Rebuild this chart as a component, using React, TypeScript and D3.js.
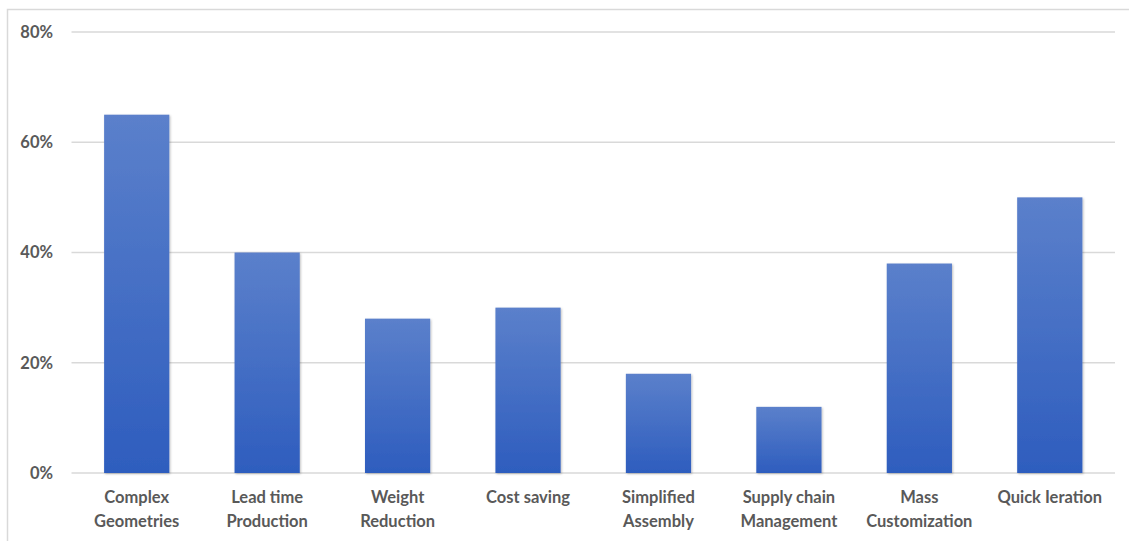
import React from "react";
import * as d3 from "d3";

const categories: string[][] = [
  ["Complex", "Geometries"],
  ["Lead time", "Production"],
  ["Weight", "Reduction"],
  ["Cost saving"],
  ["Simplified", "Assembly"],
  ["Supply chain", "Management"],
  ["Mass", "Customization"],
  ["Quick Ieration"],
];
const values: number[] = [65, 40, 28, 30, 18, 12, 38, 50];
const yTicks: number[] = [0, 20, 40, 60, 80];

const W = 1129;
const H = 541;
const left = 71.5;
const right = 1115;
const top = 32;
const bottom = 473;

export default function App() {
  const keys = categories.map((c) => c.join(" "));
  const x = d3
    .scaleBand<string>()
    .domain(keys)
    .range([left, right])
    .paddingInner(0.5)
    .paddingOuter(0.25);
  const y = d3.scaleLinear().domain([0, 80]).range([bottom, top]);
  const font = "Lato, 'Open Sans', sans-serif";
  return (
    <svg
      width={W}
      height={H}
      style={{ position: "absolute", left: 0, top: 0, background: "#fff" }}
    >
      <defs>
        <linearGradient id="barGrad" x1="0" y1="0" x2="0" y2="1">
          <stop offset="0%" stopColor="#5b80cb" />
          <stop offset="100%" stopColor="#2e5dbe" />
        </linearGradient>
        <filter id="shadow" x="-10%" y="-10%" width="130%" height="130%">
          <feDropShadow dx="1" dy="1" stdDeviation="1" floodColor="#000" floodOpacity="0.25" />
        </filter>
      </defs>
      <rect x={7.5} y={9.5} width={W} height={H} fill="none" stroke="#d9d9d9" strokeWidth={1.5} />
      {yTicks.map((t) => (
        <g key={t}>
          <line x1={left} x2={right} y1={y(t)} y2={y(t)} stroke="#d9d9d9" strokeWidth={1.3} />
          <text
            x={53}
            y={y(t)}
            dy="0.35em"
            textAnchor="end"
            fontFamily={font}
            fontSize={16.5}
            fontWeight={700}
            fill="#595959"
          >
            {t}%
          </text>
        </g>
      ))}
      {values.map((v, i) => (
        <rect
          key={keys[i]}
          x={x(keys[i])}
          y={y(v)}
          width={x.bandwidth()}
          height={y(0) - y(v)}
          fill="url(#barGrad)"
          filter="url(#shadow)"
        />
      ))}
      {categories.map((lines, i) => (
        <text
          key={keys[i]}
          textAnchor="middle"
          fontFamily={font}
          fontSize={16.5}
          fontWeight={700}
          fill="#595959"
        >
          {lines.map((l, j) => (
            <tspan key={j} x={(x(keys[i]) as number) + x.bandwidth() / 2} y={503 + j * 23.5}>
              {l}
            </tspan>
          ))}
        </text>
      ))}
    </svg>
  );
}
